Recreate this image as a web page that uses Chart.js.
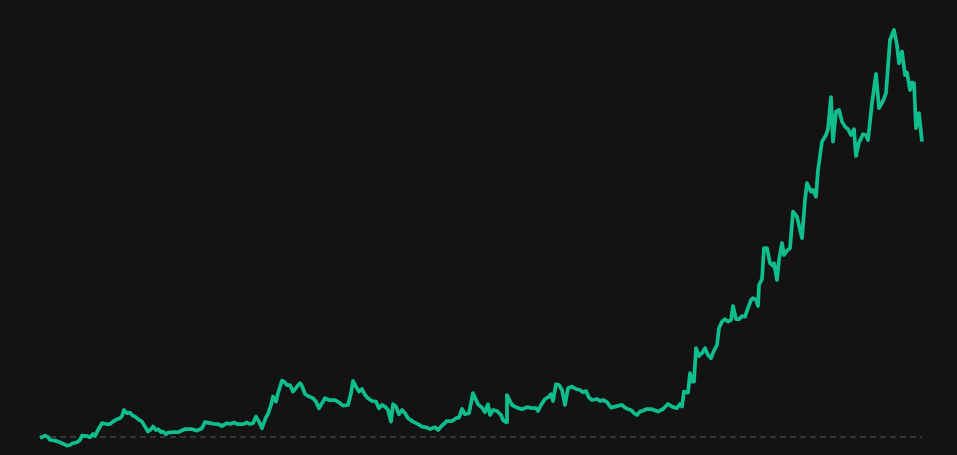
<!DOCTYPE html>
<html>
<head>
<meta charset="utf-8">
<script src="https://cdn.jsdelivr.net/npm/chart.js@4/dist/chart.umd.min.js"></script>
<style>
  html, body { margin: 0; padding: 0; background: #131313; }
  canvas { display: block; }
</style>
</head>
<body>
<canvas id="c" width="957" height="455"></canvas>
<script>
// Session index (trading sessions from start)
const sessions = [
  0,2,5,8,10,15,18,22,27,30,33,37,40,42,47,50,53,55,58,62,66,70,73,77,80,82,84,87,90,92,95,98,
  102,105,108,111,113,116,118,121,123,126,128,133,138,142,145,152,157,162,165,170,175,178,182,187,
  190,194,198,203,207,210,213,216,219,222,226,228,231,233,236,238,242,244,247,250,253,257,260,262,
  265,269,273,276,279,282,285,289,293,295,300,303,308,311,313,316,319,322,325,328,332,336,339,342,
  345,348,351,353,356,359,362,365,368,373,378,382,387,390,395,398,402,407,412,416,419,422,425,429,
  433,438,442,445,448,450,453,457,461,463,466,467,472,477,482,487,492,496,498,501,505,509,511,513,
  516,519,522,525,528,532,536,540,543,546,549,552,557,560,563,567,571,575,579,582,585,588,591,594,
  597,600,602,607,612,618,623,628,632,637,640,642,644,648,650,652,654,656,659,662,665,668,671,674,
  677,679,682,685,688,691,693,696,699,702,705,708,711,713,716,718,719,722,724,727,730,733,734,737,
  739,742,744,747,750,753,757,762,765,767,771,773,776,778,782,786,788,791,793,796,799,802,805,808,
  811,814,816,819,823,826,828,832,836,839,843,846,850,854,857,859,862,865,867,870,872,874,876,879,882
];
// Price (indexed, start = 100)
const prices = [
  99.5,100,100.7,100,98.5,98.2,97.7,96.9,95.7,96,96.9,97.4,98.5,100.7,100.5,99.9,101.5,100.5,103.5,106.9,106.5,106.5,107.7,108.9,109.4,110.5,113.5,111.9,112.2,111,110.2,108.9,
  107.7,105.2,102.7,103.9,105.2,103.5,103.9,102.4,102.7,101.4,102.2,102.4,102.4,103.2,104,103.9,103.2,104.4,107.4,106.9,106.5,106.5,105.5,106.9,
  106.5,107.2,106.4,106.4,107.2,106.5,106.9,110.2,107.7,104.4,109.9,111.5,116,120.2,117.7,121.9,128.2,127.7,126,126,122.7,125.2,126.9,125.5,
  121.5,120.2,119.4,117.7,114.4,116.9,119.4,118.5,118.5,118.5,116.9,115.7,116,121.9,128,125.2,122.7,124,121,119.4,118,117.7,114.4,116,
  115.2,113.5,107.7,116.4,115.2,111.4,113.5,111.9,109.4,107.7,106.4,105.2,104.7,104,104.9,103.5,105.7,108,108,109.4,109.7,114,111.4,111.9,
  121.9,116.4,114.7,112.4,116.4,111,113.5,113,111,108.5,107.4,121,116,114.7,113.9,114.9,114.4,114.4,113,116,119,120.2,121.4,118,
  126.4,126,123.5,116,124.4,125.2,124,123.5,122.4,123,119.7,118.5,119,118,118.5,117.4,114.7,115.2,115.7,116,114.7,113.9,113.5,111.9,
  111,112.7,113,114,113.9,112.7,114,116.5,115.2,114.4,116.5,115.2,122.7,122.2,131.9,127.7,127.7,144.4,140.5,141.9,144.4,141,139.4,143.2,
  146,154.4,157.7,158.9,157.7,158.5,165.5,158.9,158.9,160.5,160.2,164.4,168.5,169.4,168.5,165.5,176,178.9,194.4,194.4,186.9,185.5,186.9,178.5,
  188.5,196.9,191,193.2,194.4,212.7,210.2,199.4,218.5,226.9,222.7,223.5,220.2,233.5,247.7,251,253.9,269.9,247.7,262.7,263.5,257.7,255.2,253.9,
  251,253.9,240.5,247.2,251.4,251,248.5,266.9,281.5,264.4,268,271.9,298.5,303.5,296,286.9,292.7,281,282.2,273.5,277.2,276.9,254.4,261.9,247.7
];
const baseValue = 100;

const series = sessions.map((s, i) => ({ x: s, y: prices[i] }));
const baseline = [
  { x: sessions[0], y: baseValue },
  { x: sessions[sessions.length - 1], y: baseValue }
];

new Chart(document.getElementById('c'), {
  type: 'line',
  data: {
    datasets: [
      {
        data: series,
        borderColor: '#10bd8d',
        borderWidth: 3.75,
        pointRadius: 0,
        tension: 0,
        fill: false,
        clip: false,
        borderJoinStyle: 'round',
        borderCapStyle: 'butt',
        order: 0
      },
      {
        data: baseline,
        borderColor: '#363636',
        borderWidth: 2,
        borderDash: [6, 4],
        pointRadius: 0,
        fill: false,
        clip: false,
        order: 1
      }
    ]
  },
  options: {
    responsive: false,
    animation: false,
    devicePixelRatio: 1,
    layout: { padding: { left: 40, right: 35, top: 0, bottom: 0 } },
    scales: {
      x: { type: 'linear', min: 0, max: 882, display: false },
      y: { type: 'linear', min: 91, max: 318.5, display: false }
    },
    plugins: {
      legend: { display: false },
      tooltip: { enabled: false }
    }
  }
});
</script>
</body>
</html>
